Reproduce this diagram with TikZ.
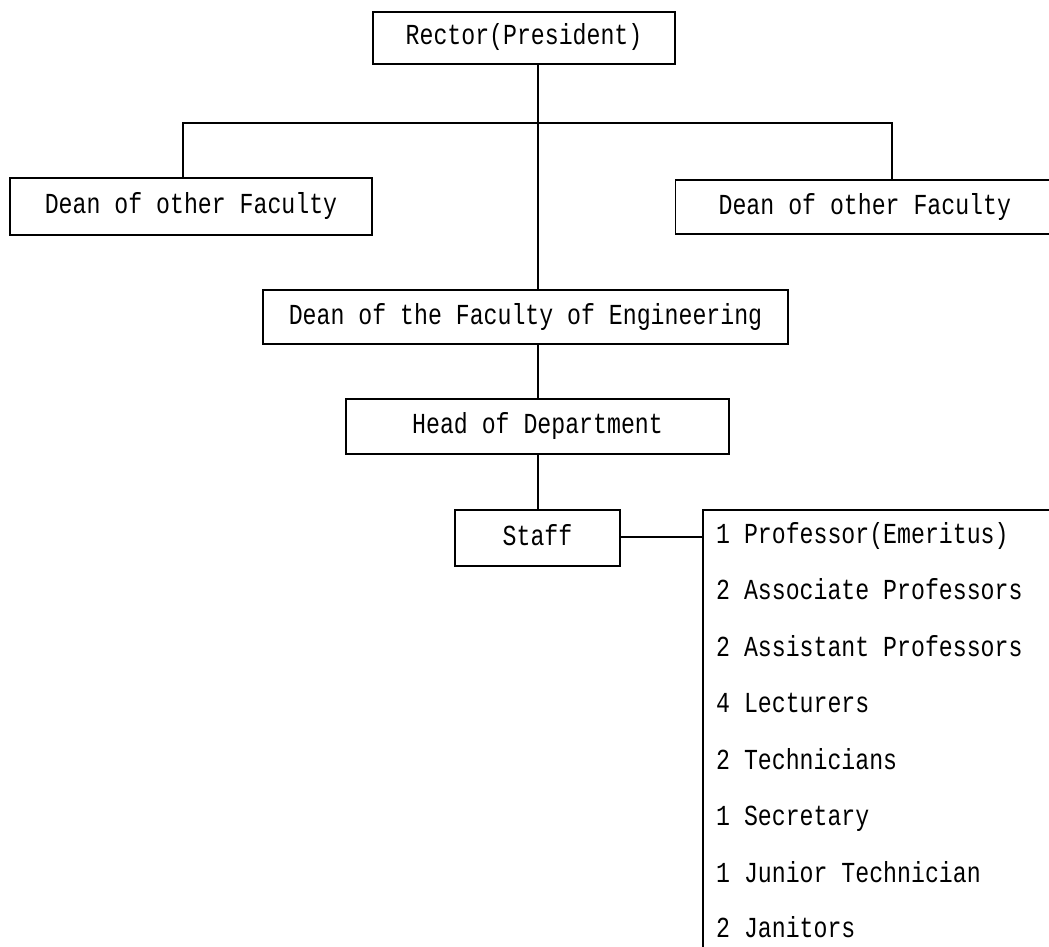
\documentclass[tikz,border=0pt]{standalone}
\usepackage{fontspec}
\newfontfamily\chartfont[FakeStretch=0.8]{Liberation Mono}
\begin{document}
\begin{tikzpicture}[x=1pt,y=-1pt,
  every node/.style={font=\chartfont\fontsize{29}{32}\selectfont, inner sep=0pt, text height=20pt, text depth=6pt},
  box/.style={draw, line width=1.3pt, minimum height=54pt},
  conn/.style={line width=1.3pt},
  item/.style={anchor=west}]
\useasboundingbox[fill=white] (0,0) rectangle (1049,947);

\coordinate (spine) at (538,0);
\coordinate (bl) at (183,123);
\coordinate (br) at (892,123);

\node[box, minimum width=302pt, minimum height=52pt] (rector) at (524,38) {Rector(President)};
\node[box, minimum width=362pt, minimum height=57pt] (ldean) at (191,206.5) {Dean of other Faculty};
\node[box, anchor=west, inner xsep=43pt] (rdean) at (675,207) {\makebox[420pt][l]{Dean of other Faculty}};
\node[box, minimum width=525pt] (eng) at (525.5,317) {Dean of the Faculty of Engineering};
\node[box, minimum width=383pt, minimum height=55pt] (head) at (537.5,426.5) {Head of Department};
\node[box, minimum width=165pt, minimum height=56pt] (staff) at (537.5,538) {Staff};

% staff list frame (open to the right and bottom)
\coordinate (listtl) at (703,510);
\coordinate (listin) at (703,537);
\draw[conn] (1060,510) -- (listtl) -- (703,960);

\node[item] (s1) at (716,536) {1 Professor(Emeritus)};
\node[item] (s2) at (716,592.5) {2 Associate Professors};
\node[item] (s3) at (716,649) {2 Assistant Professors};
\node[item] (s4) at (716,705.5) {4 Lecturers};
\node[item] (s5) at (716,762) {2 Technicians};
\node[item] (s6) at (716,818.5) {1 Secretary};
\node[item] (s7) at (716,875) {1 Junior Technician};
\node[item] (s8) at (716,930.5) {2 Janitors};

% connectors
\draw[conn] (rector.south -| spine) -- (eng.north -| spine);
\draw[conn] (ldean.north -| bl) -- (bl) -- (br) -- (rdean.north -| br);
\draw[conn] (eng.south -| spine) -- (head.north -| spine);
\draw[conn] (head.south -| spine) -- (staff.north -| spine);
\draw[conn] (staff.east |- listin) -- (listin);
\end{tikzpicture}
\end{document}
